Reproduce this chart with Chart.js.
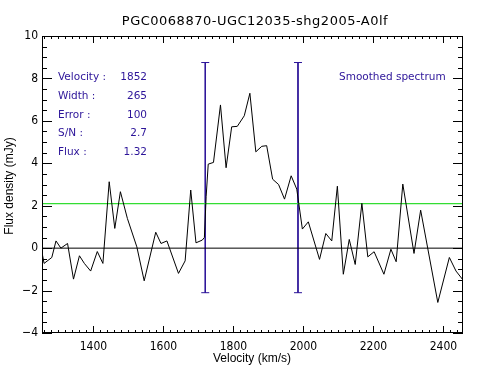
<!DOCTYPE html>
<html>
<head>
<meta charset="utf-8">
<script src="https://cdn.jsdelivr.net/npm/chart.js@4"></script>
<style>
  body { margin: 0; background: #fff; }
</style>
</head>
<body>
<canvas id="spec" width="485" height="388"></canvas>
<script>
// spectrum (velocity km/s, flux mJy)
const velocity = [1250, 1259, 1281, 1293, 1307, 1326, 1343, 1360, 1374, 1392, 1411, 1427, 1445, 1461, 1477, 1497, 1524, 1545,
    1578, 1593, 1610, 1643, 1662, 1678, 1693, 1711, 1717, 1722, 1728, 1743, 1763, 1779, 1795, 1811, 1831, 1847, 1864,
    1881, 1895, 1912, 1929, 1946, 1965, 1981, 1997, 2014, 2046, 2064, 2081, 2097, 2114, 2131, 2148, 2167, 2184, 2202,
    2230, 2250, 2265, 2284, 2316, 2335, 2384, 2417, 2436, 2455];
const flux = [0.05, -0.72, -0.44, 0.34, 0.0, 0.22, -1.46, -0.36, -0.72, -1.08, -0.16, -0.72, 3.13, 0.93, 2.66, 1.4, 0.06, -1.54,
    0.75, 0.22, 0.34, -1.19, -0.6, 2.74, 0.25, 0.38, 0.5, 2.42, 3.96, 4.04, 6.75, 3.79, 5.72, 5.74, 6.24, 7.3, 4.54,
    4.8, 4.83, 3.25, 3.0, 2.31, 3.41, 2.78, 0.9, 1.24, -0.53, 0.69, 0.34, 2.92, -1.23, 0.41, -0.77, 2.11, -0.41, -0.17,
    -1.23, -0.05, -0.64, 3.02, -0.25, 1.79, -2.56, -0.44, -1.08, -1.48];

const xMin = 1253, xMax = 2456;
const yMin = -4, yMax = 10;
const xTickLabels = [1400, 1600, 1800, 2000, 2200, 2400];
const yTickLabels = [-4, -2, 0, 2, 4, 6, 8, 10];

const lineEdges = [1719.5, 1984.5];   // 1852 +/- width/2
const lineTop = 8.75, lineBottom = -2.1;
const threshold = 2.1;

const title = 'PGC0068870-UGC12035-shg2005-A0lf';
const infoLabels = ['Velocity :', 'Width :', 'Error :', 'S/N :', 'Flux :'];
const infoValues = ['1852', '265', '100', '2.7', '1.32'];
const noteText = 'Smoothed spectrum';

const BLUE = '#2c1499';
const GREEN = '#33dd33';
const tickFont = {family: '"Liberation Sans Narrow", "DejaVu Sans Condensed", sans-serif', size: 12};

const bgWhite = {
    id: 'bgWhite',
    beforeDraw(chart) {
        const ctx = chart.ctx;
        ctx.save();
        ctx.fillStyle = '#fff';
        ctx.fillRect(0, 0, chart.width, chart.height);
        ctx.restore();
    }
};

// IDL style box with inward ticks + all the text
const frameTicks = {
    id: 'frameTicks',
    afterDraw(chart) {
        const {ctx, chartArea: a, scales: {x, y}} = chart;
        ctx.save();
        ctx.strokeStyle = '#000';
        ctx.lineWidth = 1;
        ctx.beginPath();
        for (let v = 1260; v <= xMax; v += 20) {
            const px = Math.round(x.getPixelForValue(v)) + 0.5;
            const len = (v % 200 === 0) ? 7 : 3;
            ctx.moveTo(px, a.bottom); ctx.lineTo(px, a.bottom - len);
            ctx.moveTo(px, a.top); ctx.lineTo(px, a.top + len);
        }
        for (let v = yMin; v <= yMax; v += 0.5) {
            const py = Math.round(y.getPixelForValue(v)) + 0.5;
            const len = (v % 2 === 0) ? 10 : 5;
            ctx.moveTo(a.left, py); ctx.lineTo(a.left + len, py);
            ctx.moveTo(a.right, py); ctx.lineTo(a.right - len, py);
        }
        ctx.stroke();
        ctx.strokeRect(a.left + 0.5, a.top + 0.5, a.right - a.left - 1, a.bottom - a.top - 1);

        ctx.fillStyle = '#000';
        ctx.textBaseline = 'middle';
        ctx.textAlign = 'center';
        ctx.font = '13px "DejaVu Sans", sans-serif';
        ctx.letterSpacing = '0.5px';
        ctx.fillText(title, 255, 22);
        ctx.letterSpacing = '0px';

        ctx.font = '12px "Liberation Sans", sans-serif';
        ctx.fillText('Velocity (km/s)', 252, 359);
        ctx.save();
        ctx.translate(10, 186);
        ctx.rotate(-Math.PI / 2);
        ctx.fillText('Flux density (mJy)', 0, 0);
        ctx.restore();

        ctx.fillStyle = BLUE;
        ctx.font = '10.5px "DejaVu Sans", sans-serif';
        const rows = [77, 96, 115, 133, 152];
        infoLabels.forEach((lab, i) => {
            ctx.textAlign = 'left';
            ctx.fillText(lab, 58, rows[i]);
            ctx.textAlign = 'right';
            ctx.fillText(infoValues[i], 147, rows[i]);
        });
        ctx.textAlign = 'left';
        ctx.fillText(noteText, 339, 77);
        ctx.restore();
    }
};

const ctx = document.getElementById('spec').getContext('2d');
new Chart(ctx, {
    type: 'scatter',
    data: {
        datasets: [
            {
                label: 'spectrum',
                data: velocity.map((v, i) => ({x: v, y: flux[i]})),
                showLine: true,
                borderColor: '#000',
                borderWidth: 1,
                pointRadius: 0,
                tension: 0
            },
            {
                label: 'zero',
                data: [{x: xMin, y: 0}, {x: xMax, y: 0}],
                showLine: true,
                borderColor: '#000',
                borderWidth: 1,
                pointRadius: 0
            },
            {
                label: 'threshold',
                data: [{x: xMin, y: threshold}, {x: xMax, y: threshold}],
                showLine: true,
                borderColor: GREEN,
                borderWidth: 1.2,
                pointRadius: 0
            },
            ...lineEdges.map(v => ({
                label: 'edge',
                data: [{x: v, y: lineTop}, {x: v, y: lineBottom}],
                showLine: true,
                borderColor: BLUE,
                borderWidth: 1,
                pointStyle: 'line',
                pointRadius: 4,
                pointBorderColor: BLUE,
                pointBorderWidth: 1
            }))
        ]
    },
    options: {
        responsive: false,
        animation: false,
        layout: {padding: {top: 36, right: 22, left: 0, bottom: 0}},
        plugins: {
            legend: {display: false},
            tooltip: {enabled: false}
        },
        scales: {
            x: {
                type: 'linear',
                min: xMin,
                max: xMax,
                grid: {display: false, drawTicks: false},
                border: {display: false},
                afterBuildTicks: s => { s.ticks = xTickLabels.map(v => ({value: v})); },
                afterFit: s => { s.height = 55; },
                ticks: {
                    padding: 7, color: '#000', font: tickFont, maxRotation: 0, autoSkip: false,
                    callback: v => String(v)
                }
            },
            y: {
                min: yMin,
                max: yMax,
                grid: {display: false, drawTicks: false},
                border: {display: false},
                afterBuildTicks: s => { s.ticks = yTickLabels.map(v => ({value: v})); },
                afterFit: s => { s.width = 42; },
                ticks: {
                    padding: 4, color: '#000', font: tickFont, autoSkip: false,
                    callback: v => String(v).replace('-', '\u2212')
                }
            }
        }
    },
    plugins: [bgWhite, frameTicks]
});
</script>
</body>
</html>
